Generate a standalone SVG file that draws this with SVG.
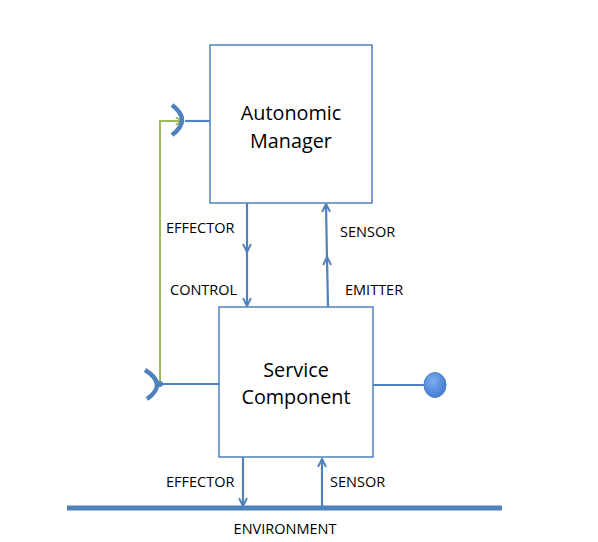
<svg xmlns="http://www.w3.org/2000/svg" width="598" height="542" viewBox="0 0 598 542">
<style>
.box{fill:#fff;stroke:#4F81BD;stroke-width:1.5}
.ln{stroke:#4F81BD;stroke-width:2.2;fill:none}
.lbl{font-family:"Open Sans","Liberation Sans",sans-serif;font-size:14.5px;fill:#000}
.big{font-family:"Open Sans","Liberation Sans",sans-serif;font-size:19.8px;fill:#000;text-anchor:middle}
</style>
<defs>
<marker id="ah" viewBox="0 0 10 10" refX="9" refY="5" markerWidth="4.5" markerHeight="4.5" orient="auto" markerUnits="strokeWidth">
<path d="M1,1 L9,5 L1,9" fill="none" stroke="#4F81BD" stroke-width="2"/>
</marker>
<marker id="ahg" viewBox="0 0 10 10" refX="9" refY="5" markerWidth="4.5" markerHeight="4.5" orient="auto" markerUnits="strokeWidth">
<path d="M1,1 L9,5 L1,9" fill="none" stroke="#9BBB59" stroke-width="2"/>
</marker>
<radialGradient id="bg" cx="0.4" cy="0.35" r="0.7">
<stop offset="0" stop-color="#7FAEF0"/>
<stop offset="1" stop-color="#3F78D0"/>
</radialGradient>
</defs>
<rect width="598" height="542" fill="#fff"/>
<g id="connectors">
<path d="M160,383 V121 H183" fill="none" stroke="#9BBB59" stroke-width="2" marker-end="url(#ahg)"/>
<line class="ln" x1="185" y1="121" x2="210" y2="121"/>
<line class="ln" x1="160" y1="384" x2="219" y2="384"/>
<line class="ln" x1="373" y1="385" x2="424" y2="385"/>
<path class="ln" d="M247,203 V252" marker-end="url(#ah)"/>
<path class="ln" d="M247,250 V306" marker-end="url(#ah)"/>
<path class="ln" d="M328,307 L327,257" marker-end="url(#ah)"/>
<path class="ln" d="M327,259 L326,204" marker-end="url(#ah)"/>
<path class="ln" d="M243,457 V506" marker-end="url(#ah)"/>
<path class="ln" d="M322,508 V459" marker-end="url(#ah)"/>
<path d="M172,105 Q192,120 172,135" fill="none" stroke="#4F81BD" stroke-width="4.5"/>
<path d="M145,370 Q168,384 147,399" fill="none" stroke="#4F81BD" stroke-width="4.5"/>
<circle cx="160" cy="384" r="3" fill="#4F81BD"/>
</g>
<g id="environment">
<line x1="67" y1="508" x2="502" y2="508" stroke="#4F81BD" stroke-width="5"/>
<text class="lbl" x="285" y="534" text-anchor="middle">ENVIRONMENT</text>
</g>
<g id="autonomic-manager">
<rect class="box" x="210" y="45" width="162" height="158"/>
<text class="big" x="291" y="120">Autonomic</text>
<text class="big" x="291" y="148">Manager</text>
</g>
<g id="service-component">
<rect class="box" x="219" y="307" width="154" height="150"/>
<text class="big" x="296" y="377">Service</text>
<text class="big" x="296" y="404">Component</text>
</g>
<g id="ball">
<ellipse cx="435" cy="385" rx="11" ry="12.5" fill="url(#bg)" stroke="#4A7EBB" stroke-width="1"/>
</g>
<g id="labels">
<text class="lbl" x="166" y="233">EFFECTOR</text>
<text class="lbl" x="340" y="237">SENSOR</text>
<text class="lbl" x="170" y="295">CONTROL</text>
<text class="lbl" x="345" y="295">EMITTER</text>
<text class="lbl" x="166" y="487">EFFECTOR</text>
<text class="lbl" x="330" y="487">SENSOR</text>
</g>
</svg>
